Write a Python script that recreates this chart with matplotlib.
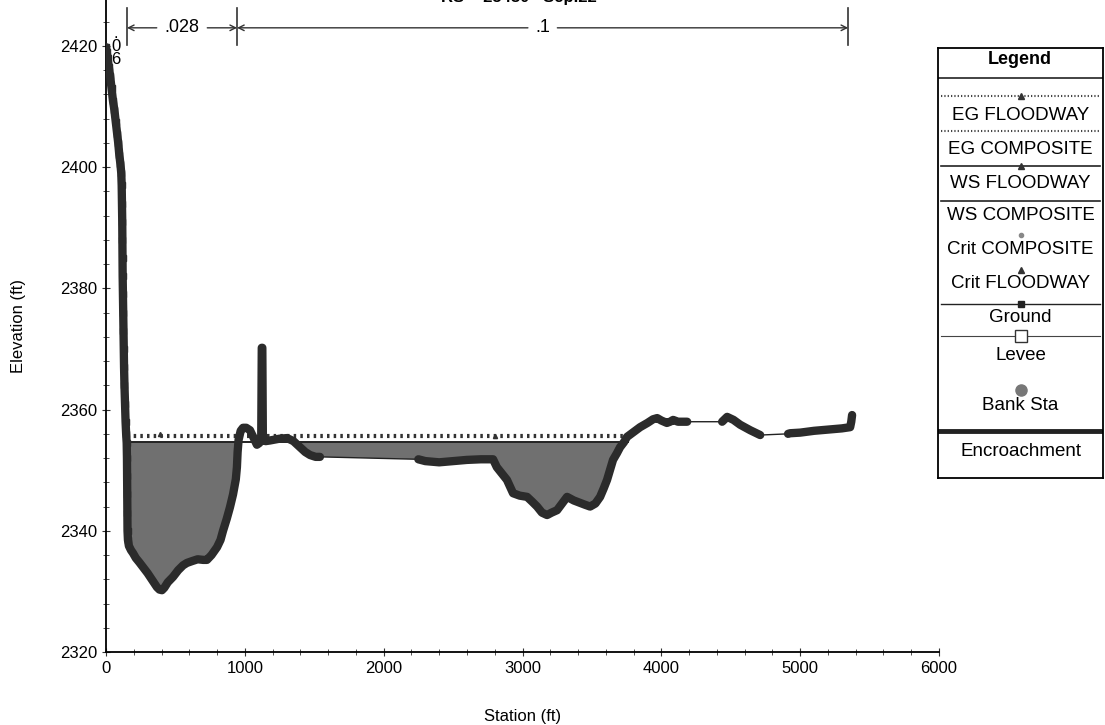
import numpy as np
import matplotlib
matplotlib.use("Agg")
import matplotlib.pyplot as plt

plt.rcParams['font.family'] = ['Liberation Sans', 'DejaVu Sans']

# ground profile (station ft, elevation ft)
station = [0, 5, 12, 20, 30, 40, 50, 60, 70, 80, 88, 96, 104, 110, 113, 115, 117, 118,
           119, 120, 122, 124, 126, 128, 130, 133, 137, 141, 145, 149, 151, 152, 153,
           154, 155, 158, 165, 180, 195, 215, 240, 267, 300, 335, 367, 385, 403, 420,
           445, 483, 520, 555, 583, 620, 660, 700, 727, 760, 800, 825, 843, 870, 893,
           915, 935, 943, 948, 955, 970, 987, 1010, 1037, 1060, 1087, 1105, 1118, 1122,
           1126, 1130, 1150, 1180, 1203, 1250, 1304, 1350, 1397, 1435, 1470, 1510, 1541,
           2250, 2300, 2400, 2500, 2600, 2700, 2788, 2815, 2850, 2888, 2932, 2980, 3033,
           3070, 3105, 3140, 3177, 3210, 3249, 3285, 3321, 3370, 3415, 3450, 3487, 3525,
           3559, 3585, 3609, 3630, 3652, 3680, 3703, 3730, 3753, 3800, 3847, 3900, 3940,
           3970, 4000, 4040, 4063, 4085, 4120, 4157, 4186, 4438, 4474, 4520, 4568, 4640,
           4712, 4913, 4928, 5000, 5100, 5200, 5300, 5360, 5368, 5374]
elevation = [2419.8, 2419, 2418, 2416.5, 2415, 2413, 2411, 2409.5, 2407.5, 2405.5, 2404,
             2402, 2400.5, 2399, 2397, 2394, 2391, 2388, 2385, 2382, 2379, 2376, 2373,
             2370, 2367, 2364, 2361, 2358, 2356, 2354.5, 2352, 2349, 2346, 2343, 2340,
             2338.5, 2337.5, 2336.8, 2336.3, 2335.5, 2334.8, 2334, 2333, 2331.8, 2330.7,
             2330.3, 2330.2, 2330.6, 2331.5, 2332.4, 2333.5, 2334.3, 2334.7, 2335, 2335.3,
             2335.2, 2335.2, 2336, 2337.3, 2338.5, 2340, 2342, 2343.9, 2346, 2348.5,
             2350.5, 2353, 2355, 2356.5, 2357, 2357, 2356.6, 2355.5, 2354.2, 2354.5, 2355,
             2370.2, 2370.2, 2355, 2354.8, 2354.9, 2355, 2355.2, 2355.3, 2354.8, 2353.8,
             2353, 2352.5, 2352.2, 2352.2, 2351.8, 2351.5, 2351.3, 2351.5, 2351.7, 2351.8,
             2351.8, 2350.5, 2349.5, 2348.4, 2346.2, 2345.8, 2345.6, 2344.8, 2344, 2343,
             2342.6, 2343, 2343.4, 2344.5, 2345.6, 2345, 2344.6, 2344.3, 2344, 2344.5,
             2345.6, 2347, 2348.4, 2350, 2351.7, 2352.8, 2353.8, 2354.6, 2355.5, 2356.3,
             2357.1, 2357.8, 2358.4, 2358.6, 2358.2, 2357.8, 2358, 2358.3, 2358, 2358,
             2358, 2358, 2358.8, 2358.3, 2357.5, 2356.6, 2355.8, 2356, 2356.1, 2356.2,
             2356.5, 2356.7, 2356.9, 2357.1, 2358, 2359.1]

# water surface / energy grade
ws_elev = 2354.6
eg_elev = 2355.7
wet_limits = [150, 3760]
crit_sta = [390, 2800]
crit_elev = [2356.0, 2355.6]

# manning n breaks
n_breaks = [151, 944, 5346]
n_values = ['.028', '.1']

legend_names = ['EG FLOODWAY', 'EG COMPOSITE', 'WS FLOODWAY', 'WS COMPOSITE', 'Crit COMPOSITE',
                'Crit FLOODWAY', 'Ground', 'Levee', 'Bank Sta', 'Encroachment']

station = np.array(station, dtype=float)
elevation = np.array(elevation, dtype=float)

fig = plt.figure(figsize=(11.05, 7.25), dpi=100)
ax = fig.add_axes([106 / 1105, 1 - 652 / 725, 833 / 1105, 652 / 725])

# water fill
inside = (station >= wet_limits[0]) & (station <= wet_limits[1])
ax.fill_between(station, elevation, ws_elev, where=inside & (elevation < ws_elev),
                interpolate=True, color='#707070', lw=0, zorder=2)

ax.plot(wet_limits, [eg_elev, eg_elev], color='#333333', ls=(0, (0.6, 1.0)), lw=3, zorder=3)
ax.plot(wet_limits, [ws_elev, ws_elev], color='#222222', lw=1.4, zorder=3)
ax.plot(crit_sta, crit_elev, ls='none', marker='^', ms=3, color='#333333', zorder=3)

# ground: thin where survey points are far apart, thick where dense
ax.plot(station, elevation, color='#222222', lw=1, zorder=4)
gaps = np.where(np.diff(station) > 150)[0]
st_t = np.insert(station, gaps + 1, np.nan)
el_t = np.insert(elevation, gaps + 1, np.nan)
ax.plot(st_t, el_t, color='#2b2b2b', lw=6, solid_capstyle='round', zorder=4)
ax.plot(station[:36], elevation[:36], ls='none', marker='s', ms=5, color='#2b2b2b', zorder=5)

# n values at top
y_n = 2423
for b in n_breaks:
    ax.plot([b, b], [2420.2, 2426.2], color='#333333', lw=1.2, clip_on=False)
for (a, b), lab in zip(zip(n_breaks[:-1], n_breaks[1:]), n_values):
    mid = (a + b) / 2
    half = 38 * len(lab) + 30
    ax.text(mid, y_n, lab, ha='center', va='center', fontsize=13)
    ax.annotate('', xy=(a, y_n), xytext=(mid - half, y_n),
                arrowprops=dict(arrowstyle='->', color='#333333', lw=1, shrinkA=0, shrinkB=0))
    ax.annotate('', xy=(b, y_n), xytext=(mid + half, y_n),
                arrowprops=dict(arrowstyle='->', color='#333333', lw=1, shrinkA=0, shrinkB=0))
ax.text(70, 2423.3, '.\n0\n6', ha='center', va='top', fontsize=12, linespacing=0.85)

ax.set_xlim(0, 6000)
ax.set_ylim(2320, 2320 + 652 / 6.06)
ax.set_xticks(np.arange(0, 6001, 1000))
ax.set_xticks(np.arange(0, 6001, 200), minor=True)
ax.set_yticks(np.arange(2320, 2421, 20))
ax.set_yticks(np.arange(2320, 2427, 4), minor=True)
ax.tick_params(which='both', direction='inout', labelsize=12, color='#333333')
ax.tick_params(which='major', length=6)
ax.tick_params(which='minor', length=4)
for s in ['top', 'right']:
    ax.spines[s].set_visible(False)
for s in ['left', 'bottom']:
    ax.spines[s].set_linewidth(1.3)
ax.set_xlabel('Station (ft)', fontsize=12, labelpad=24)
ax.set_ylabel('Elevation (ft)', fontsize=12, labelpad=24)

fig.text(0.47, 1.004, 'RS = 25480   Sep.22', ha='center', va='center',
         fontsize=12, fontweight='bold')

# legend panel (pixel coordinates of the box)
lg = fig.add_axes([938 / 1105, 1 - 478 / 725, 165 / 1105, 430 / 725])
lg.set_xlim(938, 1103)
lg.set_ylim(478, 48)
lg.set_xticks([])
lg.set_yticks([])
for s in lg.spines.values():
    s.set_linewidth(1.3)
lg.text(1020, 60, 'Legend', ha='center', va='center', fontsize=13, fontweight='bold')
lg.plot([938, 1103], [78, 78], color='#222222', lw=1.2)

sym_y = [96, 131, 166, 201, 235, 270, 304, 336, 390, 431]
txt_y = [115, 149, 183, 216, 250, 284, 318, 355, 406, 452]
xs = [941, 1100]
mid = (xs[0] + xs[1]) / 2
for name, sy, ty in zip(legend_names, sym_y, txt_y):
    if name.startswith('EG'):
        lg.plot(xs, [sy, sy], color='#444444', ls=(0, (0.6, 1.0)), lw=1.5)
    elif name.startswith('WS'):
        lg.plot(xs, [sy, sy], color='#222222', lw=1.2)
    if 'FLOODWAY' in name:
        lg.plot(mid, sy, marker='^', ms=4.5, color='#333333')
    if name == 'Crit COMPOSITE':
        lg.plot(mid, sy, marker='o', ms=3, color='#888888')
    if name == 'Ground':
        lg.plot(xs, [sy, sy], color='#222222', lw=1)
        lg.plot(mid, sy, marker='s', ms=5, color='#222222')
    if name == 'Levee':
        lg.plot(xs, [sy, sy], color='#444444', lw=0.8)
        lg.plot(mid, sy, marker='s', ms=9, mfc='white', mec='#333333')
    if name == 'Bank Sta':
        lg.plot(mid, sy, marker='o', ms=8, color='#777777')
    if name == 'Encroachment':
        lg.plot([939, 1102], [sy, sy], color='#222222', lw=3.5)
    lg.text(mid, ty, name, ha='center', va='center', fontsize=13.5)

fig.savefig('out.png', dpi=100)
